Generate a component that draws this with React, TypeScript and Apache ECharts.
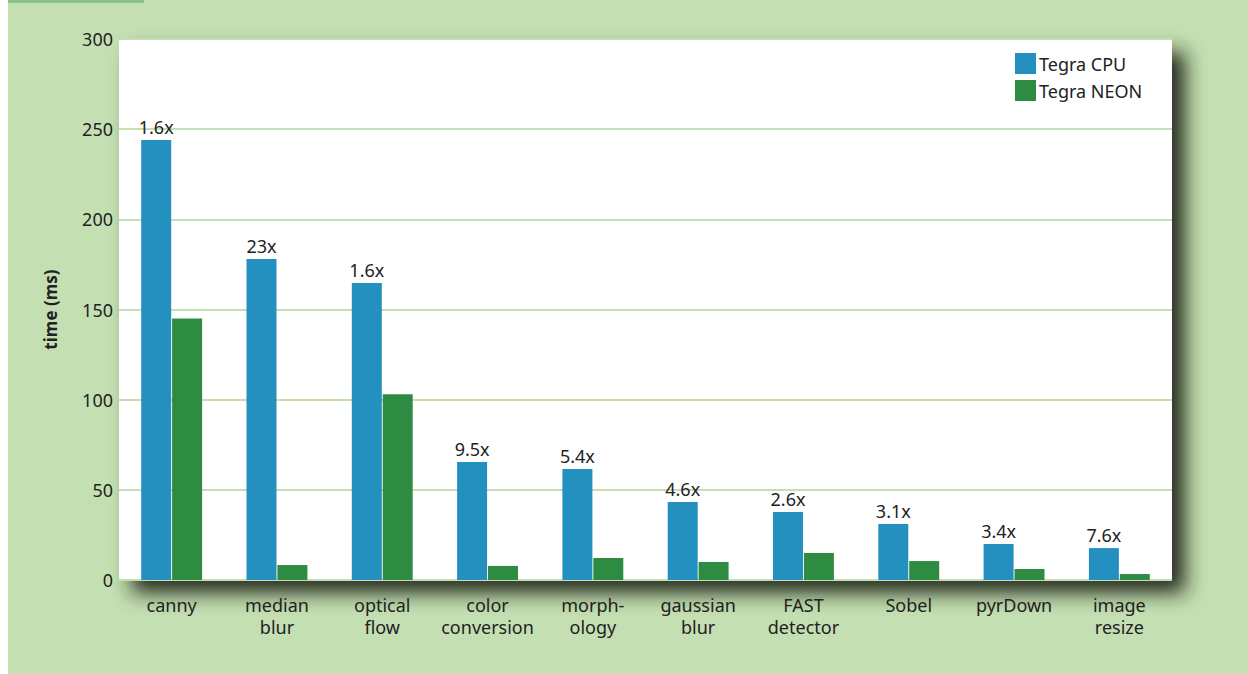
import React, { useEffect, useRef } from "react";
import * as echarts from "echarts";

const categories = [
  "canny",
  "median\nblur",
  "optical\nflow",
  "color\nconversion",
  "morph-\nology",
  "gaussian\nblur",
  "FAST\ndetector",
  "Sobel",
  "pyrDown",
  "image\nresize",
];
const cpuValues = [244, 178, 164.7, 65.4, 61.6, 43.3, 37.7, 31, 20, 17.7];
const neonValues = [145, 8.3, 103, 7.8, 12.2, 10, 15, 10.5, 6.1, 3.3];
const speedups = ["1.6x", "23x", "1.6x", "9.5x", "5.4x", "4.6x", "2.6x", "3.1x", "3.4x", "7.6x"];
const yTicks = [0, 50, 100, 150, 200, 250, 300];

const FONT = "'Noto Sans', 'DejaVu Sans', sans-serif";

export default function App() {
  const ref = useRef<HTMLDivElement>(null);
  useEffect(() => {
    if (!ref.current) return;
    const chart = echarts.init(ref.current, undefined, { renderer: "svg" });
    chart.setOption({
      animation: false,
      backgroundColor: "#c4e0b2",
      textStyle: { fontFamily: FONT },
      graphic: [
        { type: "rect", left: 0, top: 0, shape: { width: 136, height: 3 }, style: { fill: "#8cc488" } },
      ],
      legend: {
        orient: "vertical",
        left: 1002,
        top: 48,
        itemWidth: 21,
        itemHeight: 21,
        itemGap: 6,
        icon: "rect",
        textStyle: { fontFamily: FONT, fontSize: 18, color: "#222", padding: [0, 0, 0, -2] },
        data: ["Tegra CPU", "Tegra NEON"],
      },
      grid: {
        left: 111,
        right: 76,
        top: 39,
        bottom: 94,
        show: true,
        backgroundColor: "#ffffff",
        borderWidth: 0,
        shadowColor: "rgba(30,35,25,0.95)",
        shadowBlur: 20,
        shadowOffsetX: 13,
        shadowOffsetY: 13,
      },
      xAxis: {
        type: "category",
        data: categories,
        axisLine: { show: false },
        axisTick: { show: false },
        axisLabel: {
          fontFamily: FONT,
          fontSize: 18,
          color: "#222",
          margin: 14,
          lineHeight: 22,
          interval: 0,
        },
      },
      yAxis: {
        type: "value",
        min: 0,
        max: 300,
        interval: 50,
        name: "time (ms)",
        nameLocation: "middle",
        nameGap: 60,
        nameRotate: 90,
        nameTextStyle: { fontFamily: FONT, fontSize: 17, fontWeight: "bold", color: "#222" },
        axisLine: { show: false },
        axisTick: { show: false },
        axisLabel: {
          fontFamily: FONT,
          fontSize: 18,
          color: "#222",
          margin: 6,
          formatter: (v: number) => (yTicks.includes(v) ? String(v) : ""),
        },
        splitLine: { lineStyle: { color: "#c4e0b2", width: 2 } },
      },
      series: [
        {
          name: "Tegra CPU",
          type: "bar",
          data: cpuValues,
          barWidth: 30,
          barGap: "3%",
          itemStyle: { color: "#2390c0" },
          label: {
            show: true,
            position: "top",
            distance: 4,
            fontFamily: FONT,
            fontSize: 18,
            color: "#222",
            formatter: (p: any) => speedups[p.dataIndex],
          },
        },
        {
          name: "Tegra NEON",
          type: "bar",
          data: neonValues,
          barWidth: 30,
          itemStyle: { color: "#2e8c42" },
        },
      ],
    });
    return () => chart.dispose();
  }, []);
  return (
    <div
      ref={ref}
      style={{ position: "absolute", left: 8, top: 0, width: 1240, height: 674 }}
    />
  );
}
